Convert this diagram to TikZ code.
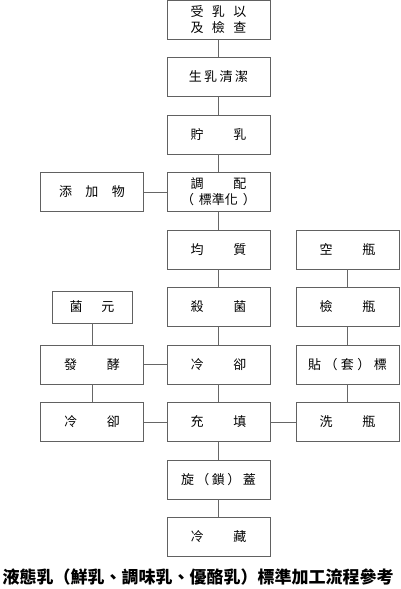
\documentclass[tikz,border=0pt]{standalone}
\usepackage{fontspec}
\newfontfamily\cjk{Noto Sans CJK TC}
\usetikzlibrary{positioning}

\begin{document}
\begin{tikzpicture}[x=1pt,y=-1pt,
  stepbox/.style={draw=black!62, line width=0.85pt, minimum width=103pt, minimum height=39pt,
    inner sep=0pt, align=center, font=\cjk\fontsize{13}{16}\selectfont},
  link/.style={draw=black!60, line width=0.85pt}]
  \useasboundingbox (0,0) rectangle (400,589);

  % main column
  \node[stepbox] (recv) at (218.5,20) {受\hspace{8.5pt}乳\hspace{8.5pt}以\\及\hspace{8.5pt}檢\hspace{8.5pt}查};
  \node[stepbox] (clean) at (218.5,77) {生\hspace{2.5pt}乳\hspace{2.5pt}清\hspace{2.5pt}潔};
  \node[stepbox] (store) at (218.5,134.5) {貯\hspace{30pt}乳};
  \node[stepbox] (mix) at (218.5,192) {調\hspace{30pt}配\\（\hspace{5pt}標準化\hspace{5pt}）};
  \node[stepbox] (homo) at (218.5,249.5) {均\hspace{30pt}質};
  \node[stepbox] (steri) at (218.5,307) {殺\hspace{30pt}菌};
  \node[stepbox] (cool) at (218.5,364.5) {冷\hspace{30pt}卻};
  \node[stepbox] (fill) at (218.5,422) {充\hspace{30pt}填};
  \node[stepbox] (cap) at (218.5,479.5) {旋\hspace{2.5pt}（\hspace{2.5pt}鎖\hspace{2.5pt}）\hspace{2.5pt}蓋};
  \node[stepbox] (chill) at (218.5,537) {冷\hspace{30pt}藏};

  % left column
  \node[stepbox] (add) at (92,192) {添\hspace{13.5pt}加\hspace{13.5pt}物};
  \node[stepbox, minimum width=80pt, minimum height=32pt] (starter) at (92,307) {菌\hspace{19pt}元};
  \node[stepbox] (ferm) at (92,364.5) {發\hspace{30pt}酵};
  \node[stepbox] (lcool) at (92,422) {冷\hspace{30pt}卻};

  % right column
  \node[stepbox] (empty) at (347.5,249.5) {空\hspace{30pt}瓶};
  \node[stepbox] (check) at (347.5,307) {檢\hspace{30pt}瓶};
  \node[stepbox] (label) at (347.5,364.5) {貼\hspace{3.5pt}（\hspace{3.5pt}套\hspace{3.5pt}）\hspace{3.5pt}標};
  \node[stepbox] (wash) at (347.5,422) {洗\hspace{30pt}瓶};

  \draw[link] (recv) -- (clean);
  \draw[link] (clean) -- (store);
  \draw[link] (store) -- (mix);
  \draw[link] (mix) -- (homo);
  \draw[link] (homo) -- (steri);
  \draw[link] (steri) -- (cool);
  \draw[link] (cool) -- (fill);
  \draw[link] (fill) -- (cap);
  \draw[link] (cap) -- (chill);

  \draw[link] (add) -- (mix);
  \draw[link] (starter) -- (ferm);
  \draw[link] (ferm) -- (cool);
  \draw[link] (ferm) -- (lcool);
  \draw[link] (lcool) -- (fill);

  \draw[link] (empty) -- (check);
  \draw[link] (check) -- (label);
  \draw[link] (label) -- (wash);
  \draw[link] (wash) -- (fill);

  \node[font=\cjk\bfseries\fontsize{17}{20}\selectfont, inner sep=0pt] (title) at (198,577)
    {液態乳（鮮乳、調味乳、優酪乳）標準加工流程參考};
\end{tikzpicture}
\end{document}
